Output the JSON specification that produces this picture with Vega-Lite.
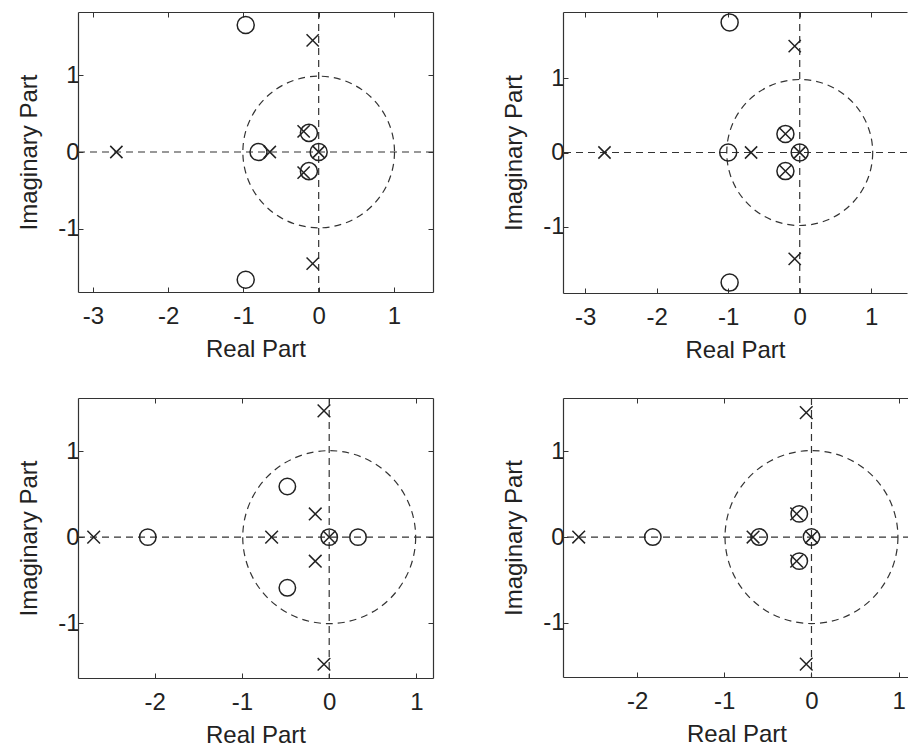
{
  "$schema": "https://vega.github.io/schema/vega-lite/v6.json",
  "background": "white",
  "padding": {"left": 17, "top": 10, "right": 0, "bottom": 0},
  "datasets": {
    "p1": [
      {"re": -0.97, "im": 1.66, "kind": "zero"},
      {"re": -0.97, "im": -1.67, "kind": "zero"},
      {"re": -0.8, "im": 0, "kind": "zero"},
      {"re": -0.13, "im": 0.25, "kind": "zero"},
      {"re": -0.13, "im": -0.25, "kind": "zero"},
      {"re": 0, "im": 0, "kind": "zero"},
      {"re": -2.69, "im": 0, "kind": "pole"},
      {"re": -0.65, "im": 0, "kind": "pole"},
      {"re": -0.08, "im": 1.46, "kind": "pole"},
      {"re": -0.08, "im": -1.46, "kind": "pole"},
      {"re": -0.2, "im": 0.27, "kind": "pole"},
      {"re": -0.2, "im": -0.27, "kind": "pole"},
      {"re": 0, "im": 0, "kind": "pole"}
    ],
    "p2": [
      {"re": -0.98, "im": 1.75, "kind": "zero"},
      {"re": -0.98, "im": -1.75, "kind": "zero"},
      {"re": -1.0, "im": 0, "kind": "zero"},
      {"re": -0.2, "im": 0.25, "kind": "zero"},
      {"re": -0.2, "im": -0.25, "kind": "zero"},
      {"re": 0, "im": 0, "kind": "zero"},
      {"re": -2.73, "im": 0, "kind": "pole"},
      {"re": -0.68, "im": 0, "kind": "pole"},
      {"re": -0.07, "im": 1.43, "kind": "pole"},
      {"re": -0.07, "im": -1.43, "kind": "pole"},
      {"re": -0.2, "im": 0.25, "kind": "pole"},
      {"re": -0.2, "im": -0.25, "kind": "pole"},
      {"re": 0, "im": 0, "kind": "pole"}
    ],
    "p3": [
      {"re": -2.08, "im": 0, "kind": "zero"},
      {"re": -0.48, "im": 0.59, "kind": "zero"},
      {"re": -0.48, "im": -0.59, "kind": "zero"},
      {"re": 0, "im": 0, "kind": "zero"},
      {"re": 0.33, "im": 0, "kind": "zero"},
      {"re": -2.7, "im": 0, "kind": "pole"},
      {"re": -0.66, "im": 0, "kind": "pole"},
      {"re": -0.16, "im": 0.27, "kind": "pole"},
      {"re": -0.16, "im": -0.28, "kind": "pole"},
      {"re": -0.06, "im": 1.47, "kind": "pole"},
      {"re": -0.06, "im": -1.48, "kind": "pole"},
      {"re": 0, "im": 0, "kind": "pole"}
    ],
    "p4": [
      {"re": -1.82, "im": 0, "kind": "zero"},
      {"re": -0.6, "im": 0, "kind": "zero"},
      {"re": -0.14, "im": 0.27, "kind": "zero"},
      {"re": -0.14, "im": -0.28, "kind": "zero"},
      {"re": 0, "im": 0, "kind": "zero"},
      {"re": -2.67, "im": 0, "kind": "pole"},
      {"re": -0.67, "im": 0, "kind": "pole"},
      {"re": -0.17, "im": 0.27, "kind": "pole"},
      {"re": -0.17, "im": -0.28, "kind": "pole"},
      {"re": -0.06, "im": 1.45, "kind": "pole"},
      {"re": -0.06, "im": -1.48, "kind": "pole"},
      {"re": 0, "im": 0, "kind": "pole"}
    ],
    "origin": [{"re": 0, "im": 0}]
  },
  "columns": 2,
  "spacing": {"column": 68, "row": 35},
  "concat": [
    {
      "width": 355, "height": 280,
      "data": {"name": "p1"},
      "resolve": {"axis": {"x": "independent", "y": "independent"}},
      "layer": [
        {"data": {"name": "origin"}, "mark": {"type": "point", "shape": "circle", "filled": false, "size": 23000, "stroke": "#333", "strokeWidth": 1.2, "strokeDash": [7, 5], "opacity": 1},
         "encoding": {"x": {"field": "re", "type": "quantitative", "scale": {"domain": [-3.2, 1.52], "nice": false, "zero": false}, "axis": null},
                      "y": {"field": "im", "type": "quantitative", "scale": {"domain": [-1.83, 1.83], "nice": false, "zero": false}, "axis": null}}},
        {"data": {"name": "origin"}, "mark": {"type": "rule", "stroke": "#333", "strokeWidth": 1.2, "strokeDash": [7, 5]},
         "encoding": {"x": {"field": "re", "type": "quantitative", "axis": null}}},
        {"data": {"name": "origin"}, "mark": {"type": "rule", "stroke": "#333", "strokeWidth": 1.2, "strokeDash": [7, 5]},
         "encoding": {"y": {"field": "im", "type": "quantitative", "axis": null}}},
        {"transform": [{"filter": "datum.kind === 'zero'"}],
         "mark": {"type": "point", "shape": "circle", "filled": false, "size": 290, "stroke": "#222", "strokeWidth": 1.5, "opacity": 1},
         "encoding": {"x": {"field": "re", "type": "quantitative", "axis": {"orient": "bottom", "title": "Real Part", "values": [-3, -2, -1, 0, 1]}},
                      "y": {"field": "im", "type": "quantitative", "axis": {"orient": "left", "title": "Imaginary Part", "values": [-1, 0, 1]}}}},
        {"transform": [{"filter": "datum.kind === 'pole'"}],
         "mark": {"type": "point", "shape": "M-1,-1L1,1M1,-1L-1,1", "filled": false, "size": 150, "stroke": "#222", "strokeWidth": 1.5, "opacity": 1},
         "encoding": {"x": {"field": "re", "type": "quantitative", "axis": {"orient": "top", "title": null, "labels": false, "values": [-3, -2, -1, 0, 1]}},
                      "y": {"field": "im", "type": "quantitative", "axis": {"orient": "right", "title": null, "labels": false, "values": [-1, 0, 1]}}}}
      ]
    },
    {
      "width": 344, "height": 281,
      "data": {"name": "p2"},
      "resolve": {"axis": {"x": "independent", "y": "independent"}},
      "layer": [
        {"data": {"name": "origin"}, "mark": {"type": "point", "shape": "circle", "filled": false, "size": 21300, "stroke": "#333", "strokeWidth": 1.2, "strokeDash": [7, 5], "opacity": 1},
         "encoding": {"x": {"field": "re", "type": "quantitative", "scale": {"domain": [-3.31, 1.5], "nice": false, "zero": false}, "axis": null},
                      "y": {"field": "im", "type": "quantitative", "scale": {"domain": [-1.89, 1.89], "nice": false, "zero": false}, "axis": null}}},
        {"data": {"name": "origin"}, "mark": {"type": "rule", "stroke": "#333", "strokeWidth": 1.2, "strokeDash": [7, 5]},
         "encoding": {"x": {"field": "re", "type": "quantitative", "axis": null}}},
        {"data": {"name": "origin"}, "mark": {"type": "rule", "stroke": "#333", "strokeWidth": 1.2, "strokeDash": [7, 5]},
         "encoding": {"y": {"field": "im", "type": "quantitative", "axis": null}}},
        {"transform": [{"filter": "datum.kind === 'zero'"}],
         "mark": {"type": "point", "shape": "circle", "filled": false, "size": 290, "stroke": "#222", "strokeWidth": 1.5, "opacity": 1},
         "encoding": {"x": {"field": "re", "type": "quantitative", "axis": {"orient": "bottom", "title": "Real Part", "values": [-3, -2, -1, 0, 1]}},
                      "y": {"field": "im", "type": "quantitative", "axis": {"orient": "left", "title": "Imaginary Part", "values": [-1, 0, 1]}}}},
        {"transform": [{"filter": "datum.kind === 'pole'"}],
         "mark": {"type": "point", "shape": "M-1,-1L1,1M1,-1L-1,1", "filled": false, "size": 150, "stroke": "#222", "strokeWidth": 1.5, "opacity": 1},
         "encoding": {"x": {"field": "re", "type": "quantitative", "axis": {"orient": "top", "title": null, "labels": false, "values": [-3, -2, -1, 0, 1]}},
                      "y": {"field": "im", "type": "quantitative", "axis": null}}}
      ]
    },
    {
      "width": 355, "height": 280,
      "data": {"name": "p3"},
      "resolve": {"axis": {"x": "independent", "y": "independent"}},
      "layer": [
        {"data": {"name": "origin"}, "mark": {"type": "point", "shape": "circle", "filled": false, "size": 29900, "stroke": "#333", "strokeWidth": 1.2, "strokeDash": [7, 5], "opacity": 1},
         "encoding": {"x": {"field": "re", "type": "quantitative", "scale": {"domain": [-2.88, 1.19], "nice": false, "zero": false}, "axis": null},
                      "y": {"field": "im", "type": "quantitative", "scale": {"domain": [-1.64, 1.62], "nice": false, "zero": false}, "axis": null}}},
        {"data": {"name": "origin"}, "mark": {"type": "rule", "stroke": "#333", "strokeWidth": 1.2, "strokeDash": [7, 5]},
         "encoding": {"x": {"field": "re", "type": "quantitative", "axis": null}}},
        {"data": {"name": "origin"}, "mark": {"type": "rule", "stroke": "#333", "strokeWidth": 1.2, "strokeDash": [7, 5]},
         "encoding": {"y": {"field": "im", "type": "quantitative", "axis": null}}},
        {"transform": [{"filter": "datum.kind === 'zero'"}],
         "mark": {"type": "point", "shape": "circle", "filled": false, "size": 270, "stroke": "#222", "strokeWidth": 1.5, "opacity": 1},
         "encoding": {"x": {"field": "re", "type": "quantitative", "axis": {"orient": "bottom", "title": "Real Part", "values": [-2, -1, 0, 1]}},
                      "y": {"field": "im", "type": "quantitative", "axis": {"orient": "left", "title": "Imaginary Part", "values": [-1, 0, 1]}}}},
        {"transform": [{"filter": "datum.kind === 'pole'"}],
         "mark": {"type": "point", "shape": "M-1,-1L1,1M1,-1L-1,1", "filled": false, "size": 160, "stroke": "#222", "strokeWidth": 1.5, "opacity": 1},
         "encoding": {"x": {"field": "re", "type": "quantitative", "axis": {"orient": "top", "title": null, "labels": false, "values": [-2, -1, 0, 1]}},
                      "y": {"field": "im", "type": "quantitative", "axis": {"orient": "right", "title": null, "labels": false, "values": [-1, 0, 1]}}}}
      ]
    },
    {
      "width": 347, "height": 279,
      "data": {"name": "p4"},
      "resolve": {"axis": {"x": "independent", "y": "independent"}},
      "layer": [
        {"data": {"name": "origin"}, "mark": {"type": "point", "shape": "circle", "filled": false, "size": 29900, "stroke": "#333", "strokeWidth": 1.2, "strokeDash": [7, 5], "opacity": 1},
         "encoding": {"x": {"field": "re", "type": "quantitative", "scale": {"domain": [-2.85, 1.13], "nice": false, "zero": false}, "axis": null},
                      "y": {"field": "im", "type": "quantitative", "scale": {"domain": [-1.63, 1.62], "nice": false, "zero": false}, "axis": null}}},
        {"data": {"name": "origin"}, "mark": {"type": "rule", "stroke": "#333", "strokeWidth": 1.2, "strokeDash": [7, 5]},
         "encoding": {"x": {"field": "re", "type": "quantitative", "axis": null}}},
        {"data": {"name": "origin"}, "mark": {"type": "rule", "stroke": "#333", "strokeWidth": 1.2, "strokeDash": [7, 5]},
         "encoding": {"y": {"field": "im", "type": "quantitative", "axis": null}}},
        {"transform": [{"filter": "datum.kind === 'zero'"}],
         "mark": {"type": "point", "shape": "circle", "filled": false, "size": 270, "stroke": "#222", "strokeWidth": 1.5, "opacity": 1},
         "encoding": {"x": {"field": "re", "type": "quantitative", "axis": {"orient": "bottom", "title": "Real Part", "values": [-2, -1, 0, 1]}},
                      "y": {"field": "im", "type": "quantitative", "axis": {"orient": "left", "title": "Imaginary Part", "values": [-1, 0, 1]}}}},
        {"transform": [{"filter": "datum.kind === 'pole'"}],
         "mark": {"type": "point", "shape": "M-1,-1L1,1M1,-1L-1,1", "filled": false, "size": 160, "stroke": "#222", "strokeWidth": 1.5, "opacity": 1},
         "encoding": {"x": {"field": "re", "type": "quantitative", "axis": {"orient": "top", "title": null, "labels": false, "values": [-2, -1, 0, 1]}},
                      "y": {"field": "im", "type": "quantitative", "axis": null}}}
      ]
    }
  ],
  "config": {
    "locale": {"number": {"decimal": ".", "thousands": ",", "grouping": [3], "currency": ["$", ""], "minus": "-"}},
    "view": {"stroke": null},
    "font": "Liberation Sans",
    "axis": {
      "grid": false,
      "domain": true,
      "domainColor": "#333",
      "domainWidth": 1.2,
      "ticks": true,
      "tickSize": -5,
      "tickColor": "#333",
      "tickWidth": 1,
      "labelFont": "Liberation Sans",
      "labelFontSize": 24,
      "labelColor": "#222",
      "labelFlush": false,
      "labelOverlap": false,
      "titleFont": "Liberation Sans",
      "titleFontSize": 24,
      "titleFontWeight": "normal",
      "titleColor": "#222"
    },
    "axisX": {"labelPadding": 17, "titlePadding": 9},
    "axisY": {"labelPadding": 4, "titlePadding": 16}
  }
}
